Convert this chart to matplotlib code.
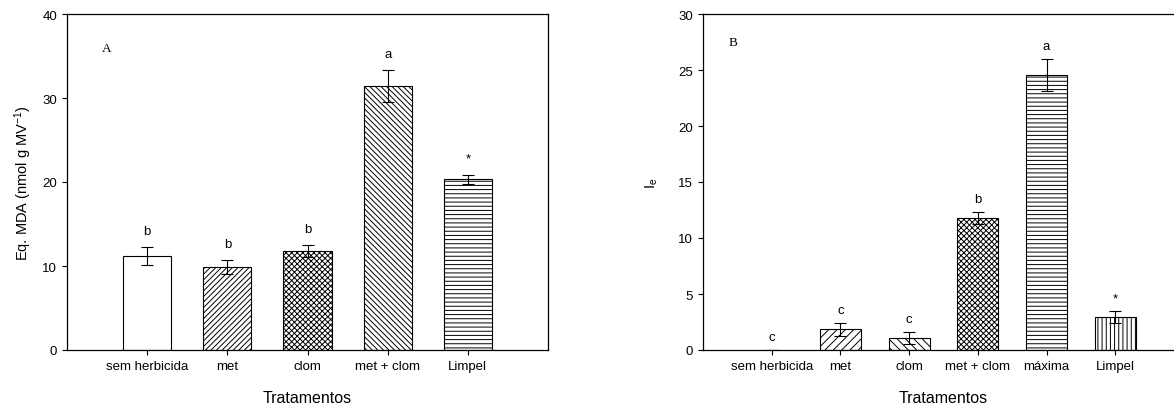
import numpy as np
import matplotlib
matplotlib.use('Agg')
import matplotlib.pyplot as plt

plt.rcParams['font.family'] = ['Liberation Sans', 'DejaVu Sans']
plt.rcParams['mathtext.fontset'] = 'custom'
plt.rcParams['mathtext.rm'] = 'Liberation Sans'
plt.rcParams['mathtext.it'] = 'Liberation Sans:italic'
plt.rcParams['hatch.linewidth'] = 0.7
plt.rcParams['axes.linewidth'] = 0.9

# panel A - lipid peroxidation
cat_a = ['sem herbicida', 'met', 'clom', 'met + clom', 'Limpel']
mda = [11.2, 9.9, 11.8, 31.4, 20.3]
mda_err = [1.1, 0.8, 0.7, 1.9, 0.55]
sig_a = ['b', 'b', 'b', 'a', '*']
hatch_a = ['', '//////', 'xxxxxx', '\\\\\\\\\\\\', '----']

# panel B - electrolyte leakage
cat_b = ['sem herbicida', 'met', 'clom', 'met + clom', 'máxima', 'Limpel']
ie = [0.0, 1.85, 1.07, 11.8, 24.55, 2.92]
ie_err = [0.0, 0.56, 0.5, 0.55, 1.4, 0.53]
sig_b = ['c', 'c', 'c', 'b', 'a', '*']
hatch_b = ['', '////', '\\\\\\\\', 'xxxxxx', '----', '||||']

fig = plt.figure(figsize=(11.74, 4.06), dpi=100)
ax1 = fig.add_axes([67/1174, 55/406, 481/1174, 336/406])
ax2 = fig.add_axes([703/1174, 55/406, 481/1174, 336/406])

def panel(ax, cats, vals, errs, sigs, hatches, gap):
    x = np.arange(len(cats))
    for i in range(len(cats)):
        if vals[i] > 0:
            ax.bar(x[i], vals[i], 0.6, color='white', edgecolor='black',
                   linewidth=0.8, hatch=hatches[i])
    ax.errorbar(x, vals, yerr=errs, fmt='none', ecolor='black',
                elinewidth=0.8, capsize=4.3, capthick=0.8)
    for i in range(len(cats)):
        ax.annotate(sigs[i], (x[i], vals[i] + errs[i]), xytext=(0, gap),
                    textcoords='offset pixels', ha='center', va='bottom',
                    fontsize=9.5)
    ax.set_xticks(x)
    ax.set_xticklabels(cats, fontsize=9.5)
    ax.set_xlim(-1, len(cats))
    ax.tick_params(direction='out', length=3.5, width=0.8, labelsize=9.5)
    ax.set_xlabel('Tratamentos', fontsize=11.5, labelpad=13)

panel(ax1, cat_a, mda, mda_err, sig_a, hatch_a, 10)
ax1.set_ylim(0, 40)
ax1.set_yticks([0, 10, 20, 30, 40])
ax1.set_ylabel('Eq. MDA (nmol g MV$^{\\mathrm{-1}}$)', fontsize=10.5, labelpad=6)
ax1.text(0.083, 0.90, 'A', transform=ax1.transAxes, family='Liberation Serif',
         fontsize=9.5, ha='center', va='center')

panel(ax2, cat_b, ie, ie_err, sig_b, hatch_b, 7)
ax2.set_ylim(0, 30)
ax2.set_yticks([0, 5, 10, 15, 20, 25, 30])
ax2.set_ylabel('I$_{\\mathrm{e}}$', fontsize=10.5, labelpad=13)
ax2.text(0.062, 0.917, 'B', transform=ax2.transAxes, family='Liberation Serif',
         fontsize=9.5, ha='center', va='center')

fig.savefig('out.png', dpi=100)
